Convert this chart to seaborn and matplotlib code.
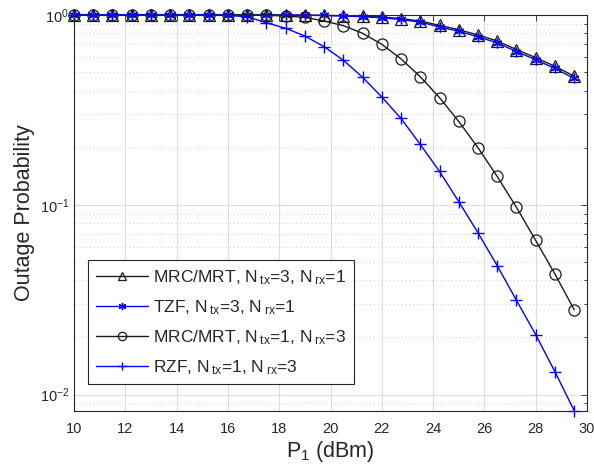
import matplotlib
matplotlib.use("Agg")
import matplotlib.pyplot as plt
import seaborn as sns
import numpy as np
from matplotlib.ticker import LogLocator, NullFormatter, MultipleLocator

P1 = [10.0, 10.75, 11.5, 12.25, 13.0, 13.75, 14.5, 15.25, 16.0, 16.75, 17.5, 18.25, 19.0,
      19.75, 20.5, 21.25, 22.0, 22.75, 23.5, 24.25, 25.0, 25.75, 26.5, 27.25, 28.0, 28.75, 29.5]

mrc_tx3 = [1.0, 1.0, 1.0, 1.0, 1.0, 1.0, 1.0, 1.0, 1.0, 1.0, 1.0, 0.999, 0.998,
           0.996, 0.992, 0.985, 0.975, 0.958, 0.930, 0.882, 0.837, 0.785, 0.730, 0.658, 0.596, 0.537, 0.476]
tzf_tx3 = [1.0, 1.0, 1.0, 1.0, 1.0, 1.0, 1.0, 1.0, 1.0, 1.0, 1.0, 0.999, 0.997,
           0.994, 0.988, 0.980, 0.966, 0.947, 0.916, 0.866, 0.820, 0.768, 0.713, 0.642, 0.581, 0.523, 0.463]
mrc_rx3 = [1.0, 1.0, 1.0, 1.0, 1.0, 1.0, 1.0, 1.0, 1.0, 1.0, 0.997, 0.988, 0.972,
           0.930, 0.879, 0.801, 0.701, 0.587, 0.473, 0.367, 0.275, 0.200, 0.141, 0.097, 0.0649, 0.0432, 0.0280]
rzf_rx3 = [1.0, 1.0, 1.0, 1.0, 1.0, 1.0, 1.0, 1.0, 0.997, 0.978, 0.911, 0.851, 0.775,
           0.681, 0.578, 0.470, 0.370, 0.285, 0.208, 0.150, 0.104, 0.0712, 0.0478, 0.0314, 0.0207, 0.0132, 0.00824]

labels = [r"MRC/MRT, N$\,_{\rm tx}$=3, N$\,_{\rm rx}$=1",
          r"TZF, N$\,_{\rm tx}$=3, N$\,_{\rm rx}$=1",
          r"MRC/MRT, N$\,_{\rm tx}$=1, N$\,_{\rm rx}$=3",
          r"RZF, N$\,_{\rm tx}$=1, N$\,_{\rm rx}$=3"]

sns.set_style("white")
plt.rcParams['font.family'] = ['Liberation Sans', 'DejaVu Sans']
plt.rcParams['mathtext.fontset'] = 'custom'
plt.rcParams['mathtext.rm'] = 'Liberation Sans'
plt.rcParams['mathtext.it'] = 'Liberation Sans:italic'

fig = plt.figure(figsize=(5.94, 4.69), dpi=100)
ax = fig.add_axes([74/594, 58/469, 513/594, 396/469])

series = [
    (mrc_tx3, dict(color='#1a1a1a', marker='^', markersize=8, markerfacecolor='none',
                   markeredgecolor='#1a1a1a', markeredgewidth=0.9)),
    (tzf_tx3, dict(color='#0000ff', marker=(6, 2, 0), markersize=7, markeredgecolor='#0000ff',
                   markeredgewidth=1.0)),
    (mrc_rx3, dict(color='#1a1a1a', marker='o', markersize=8, markerfacecolor='none',
                   markeredgecolor='#1a1a1a', markeredgewidth=0.9)),
    (rzf_rx3, dict(color='#0000ff', marker='+', markersize=8, markeredgecolor='#0000ff',
                   markeredgewidth=1.0)),
]
for (vals, kw), lab in zip(series, labels):
    sns.lineplot(x=P1, y=vals, ax=ax, label=lab, linewidth=1.0, clip_on=False, **kw)

ax.set_yscale('log')
ax.set_xlim(10, 30)
ax.set_ylim(0.0082, 1.0)
ax.xaxis.set_major_locator(MultipleLocator(2))
ax.yaxis.set_major_locator(LogLocator(base=10, numticks=10))
ax.yaxis.set_minor_locator(LogLocator(base=10, subs=np.arange(2, 10), numticks=20))
ax.yaxis.set_minor_formatter(NullFormatter())

ax.grid(True, which='major', color='#dcdcdc', linewidth=0.8, linestyle='-')
ax.grid(True, which='minor', axis='y', color='#cccccc', linewidth=0.7, linestyle=(0, (1, 3)))
ax.set_axisbelow(True)

ax.tick_params(which='both', direction='in', top=True, right=True, colors='#262626',
               labelsize=10.5, labelcolor='#262626')
ax.tick_params(which='major', length=4, width=0.6)
ax.tick_params(axis='x', which='major', pad=8)
ax.tick_params(which='minor', length=2.5, width=0.6)
for s in ax.spines.values():
    s.set_color('#262626')
    s.set_linewidth(0.8)

ax.set_xlabel(r"P$_{1}$ (dBm)", fontsize=15.5, color='#262626', labelpad=2)
ax.set_ylabel("Outage Probability", fontsize=15.5, color='#262626', labelpad=3)

leg = ax.legend(loc='upper left', bbox_to_anchor=(0.027, 0.381), borderaxespad=0,
                fontsize=12.5, frameon=True, fancybox=False, edgecolor='#262626',
                framealpha=1, handlelength=3.0, handletextpad=0.3, labelspacing=0.65,
                borderpad=0.45, markerscale=0.75)
leg.get_frame().set_linewidth(0.8)

fig.savefig("out.png", dpi=100)
